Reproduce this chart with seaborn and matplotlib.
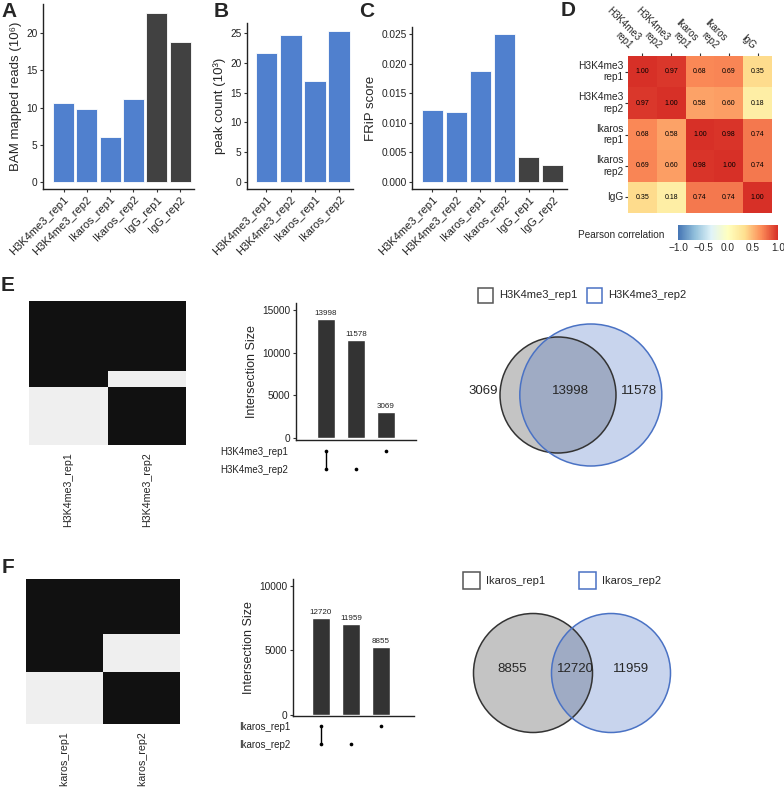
import numpy as np
import pandas as pd
import seaborn as sns
import matplotlib.pyplot as plt
from matplotlib.colors import ListedColormap, LinearSegmentedColormap
from matplotlib.patches import Circle, Rectangle

# ---- data ----
QC_SAMPLES = ["H3K4me3_rep1", "H3K4me3_rep2", "Ikaros_rep1", "Ikaros_rep2", "IgG_rep1", "IgG_rep2"]
QC_IS_IGG = [False, False, False, False, True, True]
BAM_READS = [10.6, 9.8, 6.0, 11.1, 22.8, 18.8]          # 10^6
PEAK_SAMPLES = QC_SAMPLES[:4]
PEAK_COUNT = [21.6, 24.7, 17.0, 25.4]                   # 10^3
FRIP = [0.0121, 0.0119, 0.0187, 0.0250, 0.0042, 0.0029]

CORR_LABELS = ["H3K4me3\nrep1", "H3K4me3\nrep2", "Ikaros\nrep1", "Ikaros\nrep2", "IgG"]
CORR = [
    [1.00, 0.97, 0.68, 0.69, 0.35],
    [0.97, 1.00, 0.58, 0.60, 0.18],
    [0.68, 0.58, 1.00, 0.98, 0.74],
    [0.69, 0.60, 0.98, 1.00, 0.74],
    [0.35, 0.18, 0.74, 0.74, 1.00],
]
CBAR_TICKS = [-1.0, -0.5, 0.0, 0.5, 1.0]

# overlaps: [shared, rep1 only, rep2 only]
H3_SETS = ["H3K4me3_rep1", "H3K4me3_rep2"]
H3_COUNTS = [13998, 3069, 11578]
IK_SETS = ["Ikaros_rep1", "Ikaros_rep2"]
IK_COUNTS = [12720, 8855, 11959]
# upset bars for Ikaros are drawn shorter than their labels in the original
IK_BAR_HEIGHTS = [7520, 7060, 5270]

# upset column order: shared, rep2 only, rep1 only
UPSET_ORDER = [0, 2, 1]
MEMBERSHIP = {0: (1, 1), 1: (1, 0), 2: (0, 1)}

BLUE = "#5080ce"
DARK = "#414141"
CORR_COLORS = ["#4575b4", "#91bfdb", "#e0f3f8", "#ffffbf", "#fee090", "#fc8d59", "#d73027"]
W, H = 784, 788

sns.set_theme(style="ticks")
plt.rcParams["font.family"] = ["Liberation Sans", "DejaVu Sans"]

fig = plt.figure(figsize=(W / 100, H / 100), dpi=100)


def px_axes(x0, y0, x1, y1):
    return fig.add_axes([x0 / W, 1 - y1 / H, (x1 - x0) / W, (y1 - y0) / H])


def classic(ax):
    sns.despine(ax=ax)
    for s in ("left", "bottom"):
        ax.spines[s].set_linewidth(1.0)
        ax.spines[s].set_color("#222222")
    ax.tick_params(length=2.5, width=0.8, color="#333333", labelsize=7.3, pad=1.5,
                   labelcolor="#222222")


def qc_bar(box, names, vals, ylabel, ylim, xlim, yticks, fmt):
    ax = px_axes(*box)
    colors = [DARK if QC_IS_IGG[QC_SAMPLES.index(n)] else BLUE for n in names]
    df = pd.DataFrame({"sample": names, "value": vals})
    sns.barplot(data=df, x="sample", y="value", hue="sample", palette=colors,
                legend=False, width=0.9, saturation=1, edgecolor="white",
                linewidth=0.6, ax=ax)
    ax.set_ylim(*ylim)
    ax.set_xlim(*xlim)
    ax.set_yticks(yticks)
    ax.set_yticklabels([fmt.format(t) for t in yticks])
    classic(ax)
    ax.set_xticks(range(len(names)))
    ax.set_xticklabels(names, rotation=45, ha="right", va="top",
                       rotation_mode="anchor", fontsize=8)
    ax.set_xlabel("")
    ax.set_ylabel(ylabel, fontsize=9.5, labelpad=3)
    return ax


# ---- A, B, C ----
qc_bar((43, 4, 194, 189), QC_SAMPLES, BAM_READS, "BAM mapped reads (10⁶)",
       (-0.95, 23.95), (-0.88, 5.6), [0, 5, 10, 15, 20], "{:g}")
qc_bar((247, 23, 353, 189), PEAK_SAMPLES, PEAK_COUNT, "peak count (10³)",
       (-1.2, 26.7), (-0.8, 3.56), [0, 5, 10, 15, 20, 25], "{:g}")
qc_bar((412, 27, 567, 189), QC_SAMPLES, FRIP, "FRiP score",
       (-0.00125, 0.02625), (-0.85, 5.6), [0, 0.005, 0.01, 0.015, 0.02, 0.025], "{:.3f}")

# ---- D: correlation heatmap ----
axd = px_axes(628, 56, 772, 213)
cax = px_axes(678, 225, 778, 240)
corr_cmap = LinearSegmentedColormap.from_list("corr", CORR_COLORS)
corr_df = pd.DataFrame(CORR, index=CORR_LABELS, columns=CORR_LABELS)
sns.heatmap(corr_df, cmap=corr_cmap, vmin=-1, vmax=1, annot=True, fmt=".2f",
            annot_kws={"size": 5, "color": "black"}, ax=axd, cbar_ax=cax,
            cbar_kws={"orientation": "horizontal", "ticks": CBAR_TICKS})
axd.xaxis.tick_top()
axd.tick_params(top=True, bottom=False, labeltop=True, labelbottom=False,
                length=2, width=0.8, color="#333333", labelsize=7.3, pad=1.5)
axd.set_xticklabels(CORR_LABELS, rotation=-45, ha="right", fontsize=7)
axd.set_yticklabels(CORR_LABELS, rotation=0, ha="right")
cax.tick_params(length=0, labelsize=7.3, pad=2)
cax.set_xticklabels([f"{t:.1f}".replace("-", "\u2212") for t in CBAR_TICKS])
for s in cax.spines.values():
    s.set_visible(False)
fig.text(578 / W, 1 - 235 / H, "Pearson correlation", fontsize=7.2, va="center")


# ---- E/F: binary presence heatmaps ----
def presence_heatmap(box, sets, counts):
    ax = px_axes(*box)
    blocks = [np.repeat([MEMBERSHIP[k]], counts[k], axis=0) for k in range(3)]
    mat = np.vstack(blocks)
    sns.heatmap(mat, cmap=ListedColormap(["#efefef", "#111111"]), cbar=False,
                xticklabels=sets, yticklabels=False, ax=ax, rasterized=True)
    ax.tick_params(length=0, labelsize=7.7, pad=5)
    ax.set_xticklabels(sets, rotation=90, va="top")


presence_heatmap((29, 301, 186, 445), H3_SETS, H3_COUNTS)
presence_heatmap((26, 579, 180, 724), IK_SETS, IK_COUNTS)


# ---- E/F: upset plots ----
def upset(bar_box, mat_box, sets, heights, labels, ylim, xlim, yticks, set_pad):
    ax = px_axes(*bar_box)
    df = pd.DataFrame({"combo": [str(i) for i in range(len(heights))], "size": heights})
    sns.barplot(data=df, x="combo", y="size", color="#333333", saturation=1,
                width=0.6, ax=ax)
    for i, (h, lab) in enumerate(zip(heights, labels)):
        ax.text(i, h + (ylim[1] - ylim[0]) * 0.012, str(lab), ha="center",
                va="bottom", fontsize=5.8, color="#222222")
    ax.set_ylim(*ylim)
    ax.set_xlim(*xlim)
    ax.set_yticks(yticks)
    ax.set_xticks([])
    ax.set_xlabel("")
    ax.set_ylabel("Intersection Size", fontsize=9, labelpad=3)
    classic(ax)

    axm = px_axes(*mat_box)
    for i, k in enumerate(UPSET_ORDER):
        rows = [r for r, m in enumerate(MEMBERSHIP[k]) if m]
        if len(rows) > 1:
            axm.plot([i, i], [min(rows), max(rows)], color="black", lw=1.0)
        axm.scatter([i] * len(rows), rows, s=7, color="black", zorder=3, linewidths=0)
    axm.set_xlim(*xlim)
    axm.set_ylim(1.5, -0.5)
    axm.set_xticks([])
    axm.set_yticks([0, 1])
    axm.set_yticklabels(sets, fontsize=7, color="#222222")
    axm.tick_params(length=0, pad=set_pad)
    for s in axm.spines.values():
        s.set_visible(False)
    axm.patch.set_alpha(0)


upset((296, 303, 416, 440), (296, 442, 416, 478), H3_SETS,
      [H3_COUNTS[k] for k in UPSET_ORDER], [H3_COUNTS[k] for k in UPSET_ORDER],
      (-235, 15880), (-1, 3), [0, 5000, 10000, 15000], 6)
upset((293, 579, 414, 716), (293, 717, 414, 753), IK_SETS,
      IK_BAR_HEIGHTS, [IK_COUNTS[k] for k in UPSET_ORDER],
      (-78, 10540), (-0.93, 3.1), [0, 5000, 10000], 2)


# ---- E/F: venn diagrams ----
def lens_area(r1, r2, d):
    if d >= r1 + r2:
        return 0.0
    if d <= abs(r1 - r2):
        return np.pi * min(r1, r2) ** 2
    a1 = r1 ** 2 * np.arccos((d * d + r1 * r1 - r2 * r2) / (2 * d * r1))
    a2 = r2 ** 2 * np.arccos((d * d + r2 * r2 - r1 * r1) / (2 * d * r2))
    a3 = 0.5 * np.sqrt((-d + r1 + r2) * (d + r1 - r2) * (d - r1 + r2) * (d + r1 + r2))
    return a1 + a2 - a3


def solve_distance(r1, r2, target):
    lo, hi = abs(r1 - r2), r1 + r2
    for _ in range(60):
        mid = (lo + hi) / 2
        if lens_area(r1, r2, mid) > target:
            lo = mid
        else:
            hi = mid
    return (lo + hi) / 2


def venn(box, c1, r1, r2, d, counts, sets, legend_x, legend_y, sq):
    ax = px_axes(*box)
    ax.set_xlim(box[0], box[2])
    ax.set_ylim(box[3], box[1])
    ax.axis("off")
    c2 = (c1[0] + d, c1[1])
    ax.add_patch(Circle(c1, r1, facecolor=(0.5, 0.5, 0.5, 0.46), edgecolor="none"))
    ax.add_patch(Circle(c2, r2, facecolor=(0.29, 0.447, 0.769, 0.3), edgecolor="none"))
    ax.add_patch(Circle(c1, r1, fill=False, edgecolor="#333333", lw=1.1))
    ax.add_patch(Circle(c2, r2, fill=False, edgecolor="#4a72c4", lw=1.1))
    left1, right1 = c1[0] - r1, c1[0] + r1
    left2, right2 = c2[0] - r2, c2[0] + r2
    ty = c1[1] - 4
    if left2 - left1 < 30:
        ax.text(left1 - 2, ty, str(counts[1]), ha="right", va="center", fontsize=9.5)
    else:
        ax.text((left1 + left2) / 2, ty, str(counts[1]), ha="center", va="center", fontsize=9.5)
    ax.text((left2 + right1) / 2 + 3, ty, str(counts[0]), ha="center", va="center", fontsize=9.5)
    ax.text((right1 + right2) / 2, ty, str(counts[2]), ha="center", va="center", fontsize=9.5)
    for x, name, ec in zip(legend_x, sets, ["#555555", "#4a72c4"]):
        ax.add_patch(Rectangle((x, legend_y), sq, sq, facecolor="white", edgecolor=ec,
                               lw=1.1, clip_on=False))
        ax.text(x + sq + 6, legend_y + sq / 2, name, ha="left", va="center", fontsize=8)


scale = 58 / np.sqrt(H3_COUNTS[0] + H3_COUNTS[1])
r1 = scale * np.sqrt(H3_COUNTS[0] + H3_COUNTS[1])
r2 = scale * np.sqrt(H3_COUNTS[0] + H3_COUNTS[2])
d = solve_distance(r1, r2, np.pi * scale ** 2 * H3_COUNTS[0])
venn((460, 280, 700, 480), (558, 395), r1, r2, d, H3_COUNTS, H3_SETS, [478, 587], 288, 15)
venn((455, 560, 700, 750), (533, 673), 59.5, 59.5, 78, IK_COUNTS, IK_SETS, [463, 579], 572, 17)

# ---- panel letters ----
for letter, x, y in [("A", 1, 2), ("B", 214, 2), ("C", 359, 2), ("D", 561, 1),
                     ("E", 1, 276), ("F", 2, 558)]:
    fig.text(x / W, 1 - y / H, letter, fontsize=15, fontweight="bold", va="top", ha="left")

fig.savefig("out.png", dpi=100)
